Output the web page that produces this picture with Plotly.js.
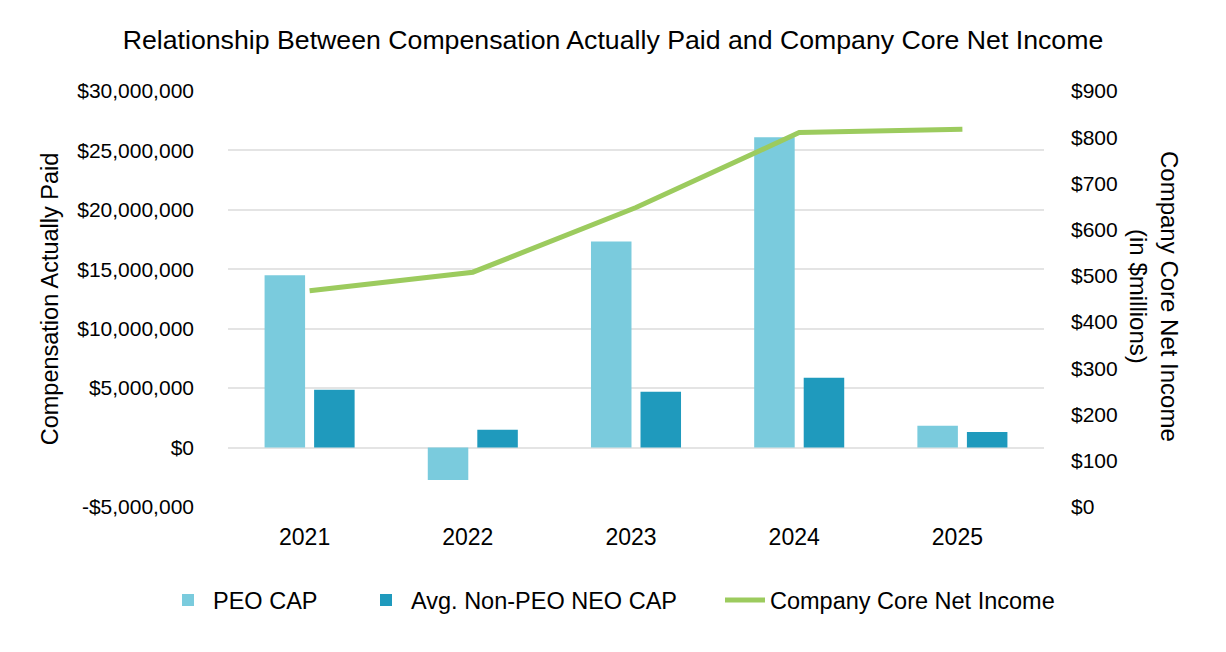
<!DOCTYPE html>
<html>
<head>
<meta charset="utf-8">
<script src="https://cdn.plot.ly/plotly-3.0.1.min.js"></script>
<style>
  html, body { margin: 0; padding: 0; background: #ffffff; }
  #chart { width: 1226px; height: 652px; }
</style>
</head>
<body>
<div id="chart"></div>
<script>
// Fiscal years shown on the category axis
const years = ['2021', '2022', '2023', '2024', '2025'];

// Compensation actually paid (USD)
const peoCap = [14500000, -2720000, 17340000, 26100000, 1830000];
const nonPeoNeoCap = [4870000, 1490000, 4700000, 5880000, 1320000];

// Company core net income ($ millions)
const coreNetIncome = [468, 508, 648, 810, 817];

// Axis tick values and labels
const leftTicks = [-5000000, 0, 5000000, 10000000, 15000000, 20000000, 25000000, 30000000];
const leftTickText = ['-$5,000,000', '$0', '$5,000,000', '$10,000,000', '$15,000,000',
                      '$20,000,000', '$25,000,000', '$30,000,000'];
const rightTicks = [0, 100, 200, 300, 400, 500, 600, 700, 800, 900];
const rightTickText = ['$0', '$100', '$200', '$300', '$400', '$500', '$600', '$700', '$800', '$900'];

const FONT = 'Liberation Sans, Arial, sans-serif';

// plot area spans 228..1044 px horizontally; convert a pixel column to paper units
const PLOT_L = 228, PLOT_W = 816;
const px = (p) => (p - PLOT_L) / PLOT_W;

const traces = [
  {
    type: 'bar',
    name: 'PEO CAP',
    x: years,
    y: peoCap,
    marker: { color: '#7ACBDD' },
    yaxis: 'y',
    legend: 'legend',
    hoverinfo: 'skip'
  },
  {
    type: 'bar',
    name: 'Avg. Non-PEO NEO CAP',
    x: years,
    y: nonPeoNeoCap,
    marker: { color: '#1F9ABD' },
    yaxis: 'y',
    legend: 'legend2',
    hoverinfo: 'skip'
  },
  {
    type: 'scatter',
    mode: 'lines',
    name: 'Company Core Net Income',
    x: years,
    y: coreNetIncome,
    line: { color: '#9CCB5E', width: 5 },
    yaxis: 'y2',
    legend: 'legend3',
    hoverinfo: 'skip'
  }
];

const legendBase = {
  orientation: 'h',
  xanchor: 'left',
  y: -0.224,
  yanchor: 'middle',
  font: { family: FONT, size: 23.5, color: '#000000' },
  itemwidth: 40,
  bgcolor: 'rgba(0,0,0,0)'
};

const layout = {
  width: 1226,
  height: 652,
  paper_bgcolor: '#ffffff',
  plot_bgcolor: '#ffffff',
  font: { family: FONT, color: '#000000', size: 20 },
  margin: { l: 228, r: 182, t: 91, b: 145, pad: 0 },
  title: {
    text: 'Relationship Between Compensation Actually Paid and Company Core Net Income',
    font: { family: FONT, size: 26.7, color: '#000000' },
    x: 0.5,
    xanchor: 'center',
    y: 1 - 40 / 652,
    yanchor: 'middle'
  },
  barmode: 'group',
  bargap: 0.393,
  bargroupgap: 0.182,
  showlegend: true,
  legend: Object.assign({}, legendBase, { x: px(163) }),
  legend2: Object.assign({}, legendBase, { x: px(361) }),
  legend3: Object.assign({}, legendBase, { x: px(720) }),
  xaxis: {
    type: 'category',
    showgrid: false,
    zeroline: false,
    showline: false,
    ticks: '',
    ticklabelstandoff: 14,
    ticklabelshift: -5,
    tickfont: { family: FONT, size: 23, color: '#000000' },
    fixedrange: true
  },
  yaxis: {
    range: [-5000000, 30000000],
    tickmode: 'array',
    tickvals: leftTicks,
    ticktext: leftTickText,
    tickfont: { family: FONT, size: 21, color: '#000000' },
    ticklabelstandoff: 33,
    ticks: '',
    showgrid: true,
    gridcolor: '#E4E4E4',
    gridwidth: 2,
    zeroline: true,
    zerolinecolor: '#E4E4E4',
    zerolinewidth: 2,
    showline: false,
    title: {
      text: 'Compensation Actually Paid',
      font: { family: FONT, size: 23.5, color: '#000000' },
      standoff: 11
    },
    fixedrange: true
  },
  yaxis2: {
    overlaying: 'y',
    side: 'right',
    range: [0, 900],
    tickmode: 'array',
    tickvals: rightTicks,
    ticktext: rightTickText,
    tickfont: { family: FONT, size: 21, color: '#000000' },
    ticklabelstandoff: 26,
    ticks: '',
    showgrid: false,
    zeroline: false,
    showline: false,
    fixedrange: true
  },
  annotations: [
    {
      text: 'Company Core Net Income<br>(in $millions)',
      xref: 'paper',
      yref: 'paper',
      x: px(1154),
      y: (507 - 296) / 416,
      xanchor: 'center',
      yanchor: 'middle',
      textangle: 90,
      showarrow: false,
      align: 'center',
      font: { family: FONT, size: 24, color: '#000000' }
    }
  ]
};

Plotly.newPlot('chart', traces, layout, { displayModeBar: false, staticPlot: true });
</script>
</body>
</html>
